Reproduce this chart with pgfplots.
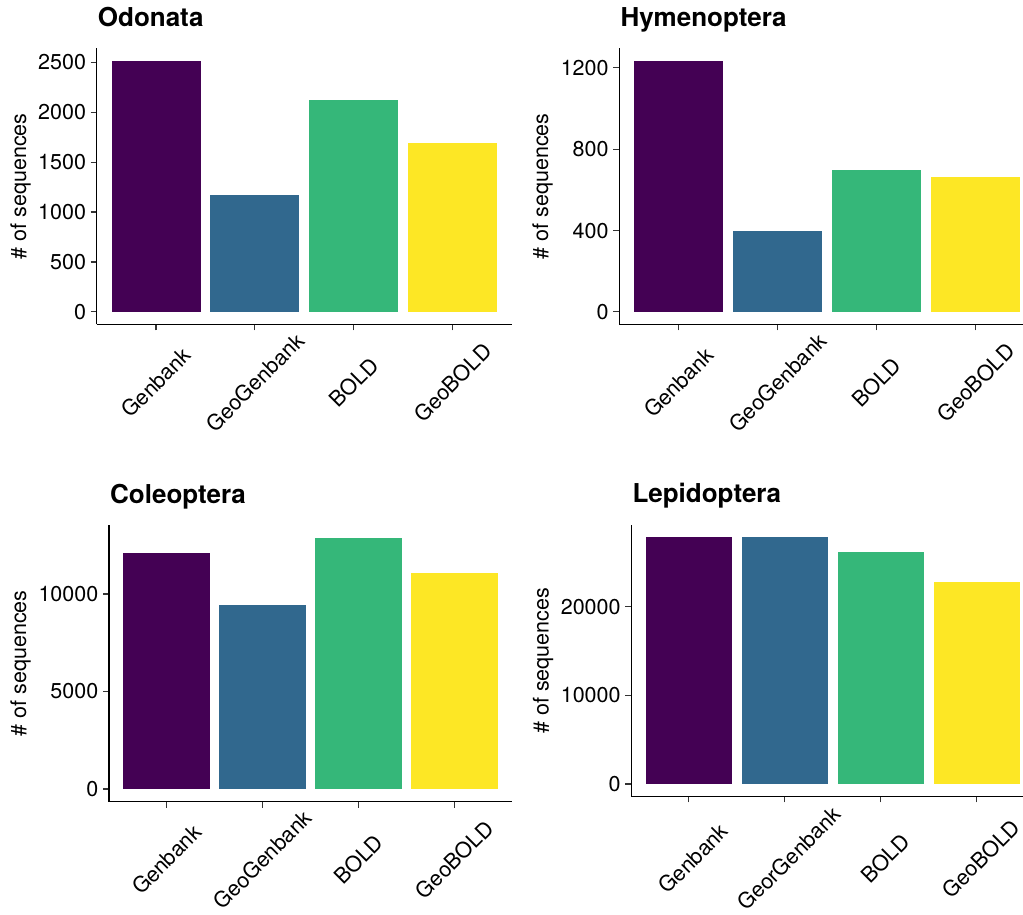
\documentclass[border=0pt]{standalone}
\usepackage{pgfplots}
\pgfplotsset{compat=1.18}
\usepackage{fontspec}
\setmainfont{TeX Gyre Heros}
\definecolor{vA}{HTML}{440154}
\definecolor{vB}{HTML}{31688E}
\definecolor{vC}{HTML}{35B779}
\definecolor{vD}{HTML}{FDE725}
\pgfplotsset{
  panel/.style={
    scale only axis,
    axis lines=left,
    axis line style={line width=1.4pt, -},
    tick align=outside,
    major tick length=6pt,
    tick style={line width=1.1pt, black!80},
    xtick={0,1,2,3},
    xmin=-0.6,
    ticklabel style={font=\fontsize{21.5}{24}\selectfont},
    /pgf/number format/assume math mode=true,
    /pgf/number format/1000 sep={},
    scaled y ticks=false,
    yticklabel style={inner sep=0pt, xshift=-4.5pt},
    xticklabel style={yshift=-52pt, rotate=45, anchor=center, inner sep=0pt},
    ylabel={\# of sequences},
    title style={font=\fontsize{26}{28}\selectfont\bfseries, at={(axis description cs:0,1)}, anchor=base west, xshift=1pt, yshift=16pt, inner sep=0pt},
    anchor=south west,
    clip=false,
  },
  ylab/.style={every axis y label/.style={at={(axis description cs:0,0.5)}, xshift=#1, rotate=90, anchor=center, inner sep=0pt, font=\fontsize{21.5}{24}\selectfont}},
  bar/.style={ybar, bar shift=0pt, bar width=0.9, draw=none, fill=#1},
}
\begin{document}
\begin{tikzpicture}
\useasboundingbox (0,0) rectangle (1023pt,915pt);
% Odonata
\begin{axis}[panel, at={(96.7pt,590.5pt)}, width=415.3pt, height=276.2pt,
  xmax=3.6, ymin=-126, ymax=2639, ytick={0,500,1000,1500,2000,2500},
  xticklabels={Genbank,GeoGenbank,BOLD,GeoBOLD}, ylab=-76.2pt, title={Odonata}]
\addplot[bar=vA] coordinates {(0,2513)};
\addplot[bar=vB] coordinates {(1,1174)};
\addplot[bar=vC] coordinates {(2,2117)};
\addplot[bar=vD] coordinates {(3,1690)};
\end{axis}
% Hymenoptera
\begin{axis}[panel, at={(619.3pt,590.5pt)}, width=403.7pt, height=276.2pt,
  xmax=3.478, ymin=-61.7, ymax=1295.7, ytick={0,400,800,1200},
  xticklabels={Genbank,GeoGenbank,BOLD,GeoBOLD}, ylab=-76.8pt, title={Hymenoptera}]
\addplot[bar=vA] coordinates {(0,1234)};
\addplot[bar=vB] coordinates {(1,398)};
\addplot[bar=vC] coordinates {(2,697)};
\addplot[bar=vD] coordinates {(3,661)};
\end{axis}
% Coleoptera
\begin{axis}[panel, at={(109pt,113.4pt)}, width=403pt, height=276.5pt,
  xmax=3.6, ymin=-644, ymax=13533, ytick={0,5000,10000},
  xticklabels={Genbank,GeoGenbank,BOLD,GeoBOLD}, ylab=-88.5pt, title={Coleoptera}]
\addplot[bar=vA] coordinates {(0,12087)};
\addplot[bar=vB] coordinates {(1,9436)};
\addplot[bar=vC] coordinates {(2,12889)};
\addplot[bar=vD] coordinates {(3,11060)};
\end{axis}
% Lepidoptera
\begin{axis}[panel, at={(631.3pt,118.7pt)}, width=391.7pt, height=271.3pt,
  xmax=3.48, ymin=-1391, ymax=29211, ytick={0,10000,20000},
  xticklabels={Genbank,GeorGenbank,BOLD,GeoBOLD}, ylab=-88.3pt, title={Lepidoptera},
  xticklabel style={yshift=-6pt}]
\addplot[bar=vA] coordinates {(0,27820)};
\addplot[bar=vB] coordinates {(1,27820)};
\addplot[bar=vC] coordinates {(2,26200)};
\addplot[bar=vD] coordinates {(3,22780)};
\end{axis}
\end{tikzpicture}
\end{document}
